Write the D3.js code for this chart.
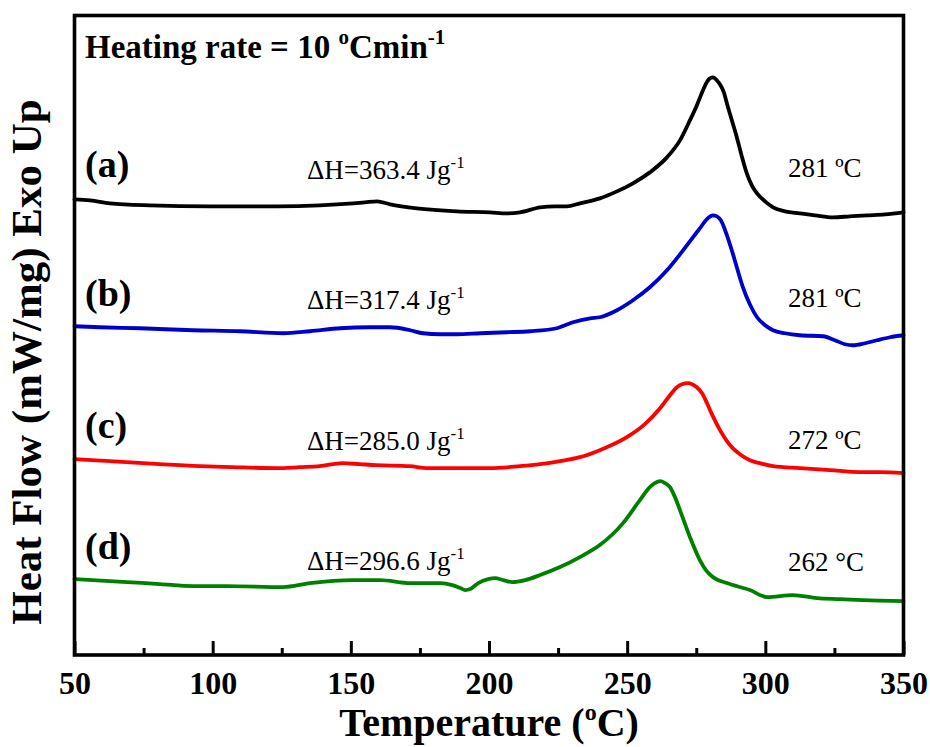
<!DOCTYPE html>
<html>
<head>
<meta charset="utf-8">
<script src="https://cdn.jsdelivr.net/npm/d3@7/dist/d3.min.js"></script>
<style>
  body { margin: 0; background: #fff; }
  svg { display: block; }
  text { font-family: "Liberation Serif", "Times New Roman", Times, serif; fill: #000; }
</style>
</head>
<body>
<svg id="chart" width="930" height="747"></svg>
<script>
// ---- DSC data: heat flow traces (vertically offset), temperature in °C ----
const xTicks = [50, 100, 150, 200, 250, 300, 350];
const xMinorTicks = [75, 125, 175, 225, 275, 325];

const sampleLabels = ["(a)", "(b)", "(c)", "(d)"];
const enthalpies = ["363.4", "317.4", "285.0", "296.6"];
const peakTemps = [281, 281, 272, 262];

const tempA = [50, 55.6, 62.8, 77.3, 99, 123.3, 138.8, 150.8, 155.1, 159.5,
  164.2, 173.9, 188.4, 200.4, 206.5, 211.2, 218.5, 223.9, 228.2, 232.9,
  240.1, 246.3, 252.1, 258.2, 264.4, 269.1, 272.7, 275.2, 277.4, 279.2,
  281, 282.5, 283.6, 285, 286.1, 287.9, 289.7, 291.5, 293.3, 295.1,
  297, 299.9, 302.8, 307.1, 312.5, 318, 324.5, 330.6, 336.8, 343.3, 350];
const flowA = [45.6, 45.5, 45.2, 45.0, 44.9, 44.9, 45.0, 45.2, 45.3, 45.4,
  45.1, 44.7, 44.4, 44.3, 44.2, 44.3, 44.8, 44.9, 44.9, 45.2,
  45.7, 46.4, 47.2, 48.3, 49.8, 51.5, 53.5, 55.0, 56.5, 57.5,
  57.8, 57.5, 57.1, 56.3, 55.2, 53.5, 51.8, 49.9, 48.2, 47.0,
  46.2, 45.4, 44.8, 44.4, 44.2, 44.0, 43.8, 43.9, 44.0, 44.1, 44.3];

const tempB = [50, 59.2, 73.7, 92.9, 109.9, 125.5, 135.2, 146.1, 157.0, 164.2,
  171.5, 176.1, 182.3, 188.4, 196.8, 206.5, 214.9, 224.6, 227.5, 230.4,
  236.6, 240.1, 246.3, 252.1, 258.2, 264.4, 269.1, 273.8, 276.3, 278.5,
  279.6, 281.0, 282.5, 283.9, 286.1, 288.2, 290.0, 291.9, 294.4, 297.0,
  299.9, 302.8, 307.1, 312.5, 320.9, 325.2, 328.8, 331.7, 336.1, 340.4,
  345.1, 350];
const flowB = [32.9, 32.8, 32.7, 32.5, 32.4, 32.2, 32.4, 32.7, 32.8, 32.8,
  32.5, 32.2, 32.1, 32.1, 32.2, 32.3, 32.4, 32.7, 33.0, 33.3,
  33.7, 33.8, 34.5, 35.5, 36.8, 38.5, 40.1, 41.8, 42.7, 43.5,
  43.8, 44.0, 43.9, 43.5, 42.0, 40.2, 38.5, 36.8, 35.1, 33.8,
  33.0, 32.5, 32.2, 32.0, 31.9, 31.5, 31.1, 31.0, 31.2, 31.5,
  31.8, 32.0];

const tempC = [50, 62.7, 80.8, 95.3, 107.2, 123.2, 131.5, 138.7, 147.0, 153.2,
  159.3, 171.3, 177.5, 189.4, 200.4, 211.2, 218.5, 225.7, 232.9, 240.1,
  249.9, 256.4, 261.9, 265.5, 268.0, 269.8, 272.0, 273.5, 275.2, 277.1,
  278.9, 281.0, 283.6, 286.1, 288.2, 290.8, 294.4, 298.0, 302.8, 312.5,
  323.4, 334.2, 341.5, 350];
const flowC = [19.6, 19.4, 19.1, 18.9, 18.8, 18.7, 18.8, 18.9, 19.2, 19.1,
  19.0, 18.9, 18.7, 18.7, 18.7, 18.9, 19.1, 19.4, 19.8, 20.5,
  21.8, 23.1, 24.7, 26.0, 26.8, 27.1, 27.2, 27.1, 26.8, 26.2,
  25.2, 23.9, 22.5, 21.4, 20.7, 20.1, 19.5, 19.2, 18.9, 18.7,
  18.5, 18.3, 18.3, 18.2];

const tempD = [50, 69.0, 80.9, 92.9, 105.2, 125.5, 135.2, 150.8, 160.6, 171.5,
  182.3, 186.7, 189.6, 191.4, 193.2, 196.1, 199.7, 202.2, 205.1, 208.4,
  213.1, 218.5, 225.7, 232.9, 240.1, 248.5, 254.6, 258.2, 260.0, 262.0,
  263.7, 265.5, 267.3, 269.1, 272.7, 276.3, 278.5, 281.0, 286.1, 294.4,
  300.6, 310.0, 318.7, 327.0, 335.3, 350];
const flowD = [7.6, 7.3, 7.1, 6.9, 6.9, 6.8, 7.2, 7.5, 7.5, 7.2,
  7.2, 7.0, 6.7, 6.5, 6.6, 7.2, 7.6, 7.7, 7.5, 7.3,
  7.5, 8.0, 8.8, 9.8, 11.0, 13.2, 15.5, 16.8, 17.2, 17.4,
  17.2, 16.8, 15.8, 14.5, 11.8, 9.5, 8.5, 7.8, 7.2, 6.5,
  5.8, 6.0, 5.7, 5.6, 5.5, 5.4];

// ---- styling & layout ----
const traceColors = ["#000000", "#0000cc", "#ff0000", "#008000"];
const margin = { left: 74.5, right: 26.5, top: 15.5, bottom: 92 };
const W = 930, H = 747;

const svg = d3.select("#chart");
const x = d3.scaleLinear().domain([50, 350]).range([margin.left, W - margin.right]);
const y = d3.scaleLinear().domain([0, 64]).range([H - margin.bottom, margin.top]);

const traces = [
  { t: tempA, f: flowA },
  { t: tempB, f: flowB },
  { t: tempC, f: flowC },
  { t: tempD, f: flowD }
];

const line = d3.line()
  .x(d => x(d[0]))
  .y(d => y(d[1]))
  .curve(d3.curveMonotoneX);

svg.append("g").selectAll("path")
  .data(traces)
  .join("path")
  .attr("d", d => line(d.t.map((t, i) => [t, d.f[i]])))
  .attr("fill", "none")
  .attr("stroke", (d, i) => traceColors[i])
  .attr("stroke-width", 3.8)
  .attr("stroke-linejoin", "round")
  .attr("stroke-linecap", "round");

// ---- axes: bottom ticks point inward ----
const axisY = H - margin.bottom;
const gx = svg.append("g").attr("transform", `translate(0,${axisY})`)
  .call(d3.axisBottom(x).tickValues(xTicks).tickSize(-14).tickPadding(0).tickFormat(d3.format("d")));
gx.select(".domain").remove();
gx.selectAll(".tick line").attr("stroke", "#000").attr("stroke-width", 3);
gx.selectAll(".tick text")
  .attr("y", 39).attr("dy", null)
  .style("font-family", '"Liberation Serif", "Times New Roman", serif')
  .style("font-weight", "bold").style("font-size", "32px").attr("fill", "#000");

const gxm = svg.append("g").attr("transform", `translate(0,${axisY})`)
  .call(d3.axisBottom(x).tickValues(xMinorTicks).tickSize(-7).tickFormat(""));
gxm.select(".domain").remove();
gxm.selectAll(".tick line").attr("stroke", "#000").attr("stroke-width", 3);

// frame
svg.append("rect")
  .attr("x", margin.left).attr("y", margin.top)
  .attr("width", W - margin.left - margin.right)
  .attr("height", H - margin.top - margin.bottom)
  .attr("fill", "none").attr("stroke", "#000").attr("stroke-width", 3.6);

// ---- axis titles ----
const xt = svg.append("text")
  .attr("x", (x(50) + x(350)) / 2).attr("y", 736)
  .attr("text-anchor", "middle")
  .style("font-weight", "bold").style("font-size", "40px");
xt.append("tspan").text("Temperature (");
xt.append("tspan").attr("dy", -16).style("font-size", "24px").text("o");
xt.append("tspan").attr("dy", 16).text("C)");

svg.append("text")
  .attr("transform", "translate(41,362) rotate(-90)")
  .attr("text-anchor", "middle")
  .style("font-weight", "bold").style("font-size", "43px")
  .text("Heat Flow (mW/mg) Exo Up");

// ---- heating rate note ----
const hr = svg.append("text")
  .attr("x", 85).attr("y", 58)
  .style("font-weight", "bold").style("font-size", "33px");
hr.append("tspan").text("Heating rate = 10 ");
hr.append("tspan").attr("dy", -14).style("font-size", "21px").text("o");
hr.append("tspan").attr("dy", 14).text("Cmin");
hr.append("tspan").attr("dy", -14).style("font-size", "21px").text("-1");

// ---- per-trace annotations ----
const labelBaselines = [177, 306, 438, 559];
const dhBaselines = [179, 309, 450, 570];
const tempBaselines = [177, 307, 449, 571];
const degreeSigns = ["\u00BA", "\u00BA", "\u00BA", "\u00B0"];

sampleLabels.forEach((lab, i) => {
  svg.append("text")
    .attr("x", 85).attr("y", labelBaselines[i])
    .style("font-weight", "bold").style("font-size", "38px")
    .text(lab);

  const dh = svg.append("text")
    .attr("x", 307).attr("y", dhBaselines[i])
    .style("font-size", "27px");
  dh.append("tspan").text("\u0394H=" + enthalpies[i] + " Jg");
  dh.append("tspan").attr("dy", -11).style("font-size", "17px").text("-1");

  svg.append("text")
    .attr("x", 788).attr("y", tempBaselines[i])
    .style("font-size", "27px")
    .text(peakTemps[i] + " " + degreeSigns[i] + "C");
});
</script>
</body>
</html>
